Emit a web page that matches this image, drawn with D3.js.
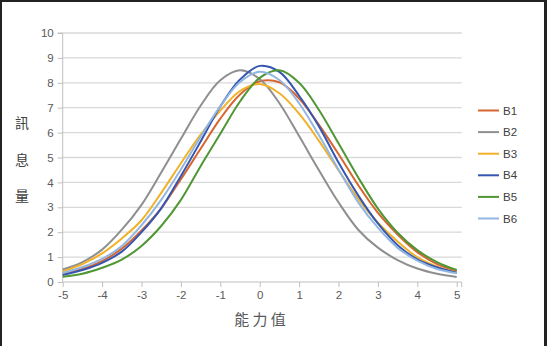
<!DOCTYPE html>
<html>
<head>
<meta charset="utf-8">
<script src="https://cdn.jsdelivr.net/npm/d3@7"></script>
<style>
    html, body { margin: 0; padding: 0; background: #fff; }
    #chart { width: 547px; height: 346px; }
</style>
</head>
<body>
<div id="chart"></div>
<script>
// ability points (x) and information values
const abilities = [-5, -4.5, -4, -3.5, -3, -2.5, -2, -1.5, -1, -0.5, 0, 0.5, 1, 1.5, 2, 2.5, 3, 3.5, 4, 4.5, 5];

const b1 = [0.32, 0.52, 0.84, 1.34, 2.07, 2.96, 4.13, 5.35, 6.56, 7.53, 8.06, 8.02, 7.37, 6.32, 5.14, 3.89, 2.78, 1.91, 1.2, 0.72, 0.44];
const b2 = [0.50, 0.8, 1.3, 2.1, 3.1, 4.4, 5.75, 7.08, 8.1, 8.5, 8.15, 7.18, 5.86, 4.5, 3.2, 2.1, 1.38, 0.88, 0.54, 0.33, 0.2];
const b3 = [0.43, 0.72, 1.15, 1.75, 2.48, 3.58, 4.77, 5.92, 6.88, 7.67, 7.95, 7.58, 6.76, 5.68, 4.49, 3.34, 2.38, 1.63, 1.0, 0.62, 0.38];
const b4 = [0.28, 0.48, 0.77, 1.22, 2.0, 2.96, 4.26, 5.64, 7.05, 8.13, 8.68, 8.44, 7.48, 6.26, 4.8, 3.48, 2.35, 1.48, 0.91, 0.59, 0.37];
const b5 = [0.21, 0.33, 0.57, 0.9, 1.45, 2.25, 3.3, 4.65, 5.95, 7.25, 8.2, 8.5, 8.0, 6.92, 5.57, 4.2, 2.95, 1.98, 1.28, 0.8, 0.48];
const b6 = [0.36, 0.6, 0.93, 1.45, 2.28, 3.3, 4.52, 5.83, 7.06, 8.03, 8.44, 8.11, 7.18, 5.9, 4.52, 3.2, 2.18, 1.37, 0.86, 0.52, 0.35];

const seriesNames = ["B1", "B2", "B3", "B4", "B5", "B6"];
const seriesValues = [b1, b2, b3, b4, b5, b6];

const xTicks = [-5, -4, -3, -2, -1, 0, 1, 2, 3, 4, 5];
const yTicks = [0, 1, 2, 3, 4, 5, 6, 7, 8, 9, 10];

const xTitle = "能 力 值";
const yTitleChars = ["訊", "息", "量"];

class InfoChart {
    constructor(parentElement) {
        this.parentElement = parentElement;
        this.colors = ["#d7652f", "#8f8f8f", "#f2b127", "#3556b0", "#4f9634", "#92b6e2"];
        this.initVis();
    }

    initVis() {
        let vis = this;

        vis.width = 547;
        vis.height = 346;

        vis.svg = d3.select("#" + vis.parentElement).append("svg")
            .attr("width", vis.width)
            .attr("height", vis.height)
            .style("font-family", "'Liberation Sans', 'Noto Sans', sans-serif");

        vis.x = d3.scaleLinear().domain([-5, 5]).range([62.7, 456.7]);
        vis.y = d3.scaleLinear().domain([0, 10]).range([282, 33]);

        vis.plotRight = vis.x(5) + 5;

        vis.drawFrame();
        vis.drawAxes();
        vis.drawLines();
        vis.drawLegend();
    }

    drawFrame() {
        let vis = this;
        // dark border of the screenshot (top, left, right)
        vis.svg.append("rect").attr("x", 0).attr("y", 0).attr("width", vis.width).attr("height", 2).attr("fill", "#222");
        vis.svg.append("rect").attr("x", 0).attr("y", 0).attr("width", 2).attr("height", vis.height).attr("fill", "#222");
        vis.svg.append("rect").attr("x", 544).attr("y", 0).attr("width", 3).attr("height", vis.height).attr("fill", "#222");
    }

    drawAxes() {
        let vis = this;

        // horizontal gridlines
        vis.svg.append("g")
            .selectAll("line")
            .data(yTicks.filter(d => d > 0))
            .join("line")
            .attr("x1", vis.x(-5))
            .attr("x2", vis.plotRight)
            .attr("y1", d => vis.y(d))
            .attr("y2", d => vis.y(d))
            .attr("stroke", "#d9d9d9")
            .attr("stroke-width", 1.3);

        let yAxis = d3.axisLeft(vis.y).tickValues(yTicks).tickSize(5).tickPadding(4)
            .tickFormat(d => String(d));
        let yG = vis.svg.append("g")
            .attr("transform", `translate(${vis.x(-5)},0)`)
            .call(yAxis);
        yG.select(".domain").attr("stroke", "#bfbfbf").attr("d", `M-5,${vis.y(10)}H0V${vis.y(0)}`);
        yG.selectAll(".tick line").attr("stroke", "#bfbfbf");
        yG.selectAll(".tick text").attr("fill", "#595959").attr("font-size", "11.5px");

        let xAxis = d3.axisBottom(vis.x).tickValues(xTicks).tickSize(5).tickPadding(4)
            .tickFormat(d => String(d));
        let xG = vis.svg.append("g")
            .attr("transform", `translate(0,${vis.y(0)})`)
            .call(xAxis);
        xG.select(".domain").attr("stroke", "#bfbfbf").attr("d", `M${vis.x(-5)},0H${vis.plotRight}V5`);
        xG.selectAll(".tick line").attr("stroke", "#bfbfbf");
        xG.selectAll(".tick text").attr("fill", "#595959").attr("font-size", "11.5px");

        vis.svg.append("text")
            .attr("x", 260)
            .attr("y", 325)
            .attr("text-anchor", "middle")
            .attr("font-size", "15px")
            .attr("fill", "#595959")
            .style("font-family", "'Noto Sans CJK TC', sans-serif")
            .text(xTitle);

        vis.svg.append("g")
            .selectAll("text")
            .data(yTitleChars)
            .join("text")
            .attr("x", 22)
            .attr("y", (d, i) => 128 + i * 36.5)
            .attr("text-anchor", "middle")
            .attr("font-size", "14px")
            .attr("fill", "#404040")
            .style("font-family", "'Noto Sans CJK TC', sans-serif")
            .text(d => d);
    }

    drawLines() {
        let vis = this;

        let line = d3.line()
            .x((d, i) => vis.x(abilities[i]))
            .y(d => vis.y(d))
            .curve(d3.curveCatmullRom.alpha(0.5));

        vis.svg.append("g")
            .selectAll("path")
            .data(seriesValues)
            .join("path")
            .attr("d", d => line(d))
            .attr("fill", "none")
            .attr("stroke", (d, i) => vis.colors[i])
            .attr("stroke-width", 2);
    }

    drawLegend() {
        let vis = this;

        let legend = vis.svg.append("g")
            .attr("transform", "translate(478, 110.5)");

        seriesNames.forEach((name, i) => {
            let yPos = i * 21.6;
            legend.append("line")
                .attr("x1", 0)
                .attr("x2", 21)
                .attr("y1", yPos)
                .attr("y2", yPos)
                .attr("stroke", vis.colors[i])
                .attr("stroke-width", 2);
            legend.append("text")
                .attr("x", 25)
                .attr("y", yPos + 4)
                .attr("font-size", "11.5px")
                .attr("fill", "#404040")
                .text(name);
        });
    }
}

new InfoChart("chart");
</script>
</body>
</html>
